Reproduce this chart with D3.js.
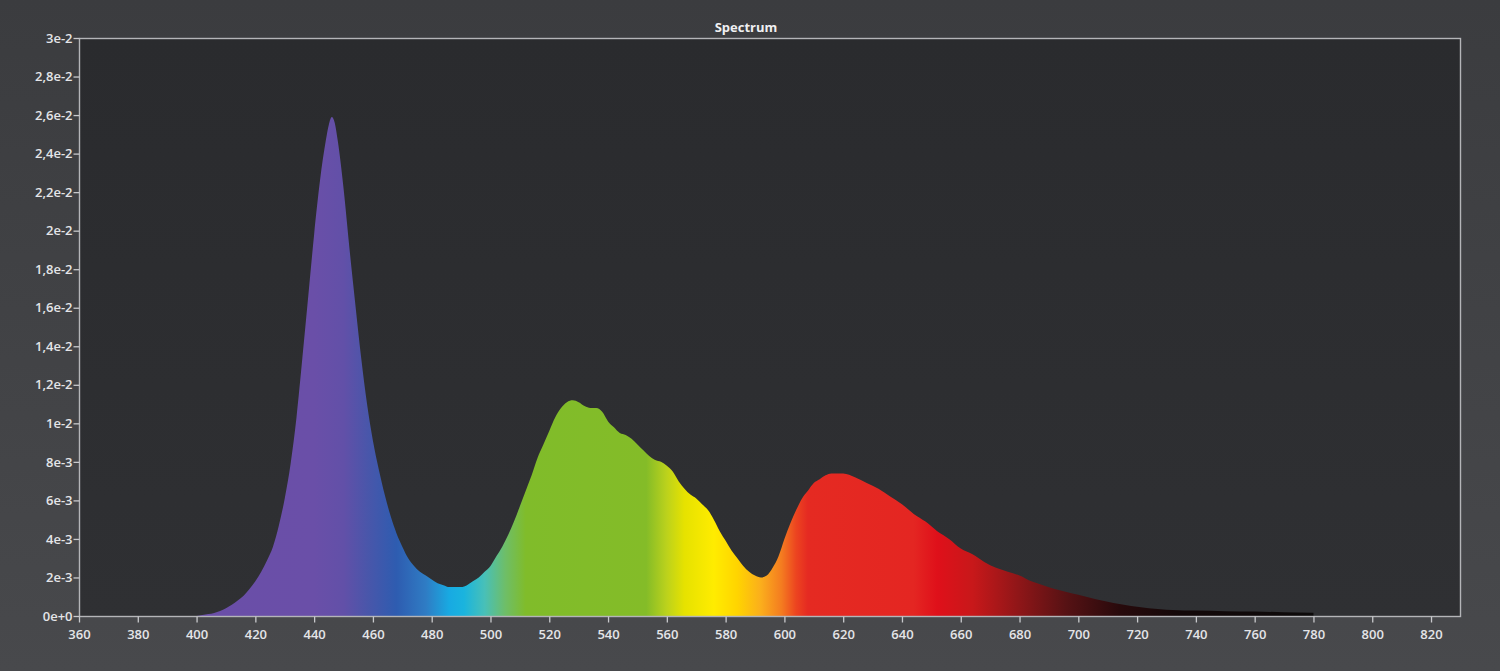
<!DOCTYPE html>
<html>
<head>
<meta charset="utf-8">
<script src="https://cdn.jsdelivr.net/npm/d3@7"></script>
<style>
  html, body { margin: 0; padding: 0; background: #404144; }
  svg { display: block; }
</style>
</head>
<body>
<svg id="chart" width="1500" height="671"></svg>
<script>
// ---- data ----
const title = "Spectrum";
const wavelengths = [400,404,406,408,410,412,414,416,418,420,422,424,426,428,430,432,434,436,438,440,442,444,445,446,447,448,450,452,454,456,458,460,462,464,466,468,470,472,474,476,478,480,482,484,486,488,490,492,494,496,498,500,502,504,506,508,510,512,514,516,518,520,522,524,526,528,530,532,534,536,538,540,542,544,546,548,550,552,554,556,558,560,562,564,566,568,570,572,574,576,578,580,582,584,586,588,590,592,594,596,598,600,602,604,606,608,610,612,614,616,618,620,624,628,632,636,640,644,648,652,656,660,664,668,672,676,680,684,688,692,696,700,704,708,712,716,720,724,728,732,736,740,750,760,770,780];
const intensity = [0,0.0001,0.00016,0.00026,0.0004,0.00058,0.0008,0.00105,0.0014,0.0018,0.0023,0.0029,0.0036,0.0047,0.0061,0.0079,0.0103,0.0134,0.0166,0.0198,0.0226,0.0247,0.0255,0.0259,0.0256,0.0247,0.0222,0.0191,0.0162,0.0134,0.0110,0.0091,0.0076,0.0063,0.0052,0.0043,0.0036,0.0030,0.0026,0.0023,0.0021,0.0019,0.0017,0.0016,0.0015,0.0015,0.0015,0.0016,0.0018,0.0020,0.0023,0.0026,0.0031,0.0036,0.0042,0.0049,0.0057,0.0065,0.0073,0.0082,0.0089,0.0096,0.0103,0.0108,0.0111,0.0112,0.0111,0.0109,0.0108,0.0108,0.0106,0.0101,0.0098,0.0095,0.0094,0.0092,0.0089,0.0086,0.0083,0.0081,0.0080,0.0078,0.0075,0.0070,0.0066,0.0063,0.0061,0.0058,0.0055,0.0050,0.0044,0.0039,0.0034,0.0030,0.0026,0.0023,0.0021,0.0020,0.0021,0.0025,0.0031,0.0040,0.0048,0.0055,0.0061,0.0065,0.0069,0.0071,0.0073,0.0074,0.0074,0.0074,0.0072,0.0069,0.0066,0.0062,0.0058,0.0053,0.0049,0.0044,0.0040,0.0035,0.0032,0.0028,0.0025,0.0023,0.0021,0.0018,0.0016,0.0014,0.00125,0.0011,0.00095,0.0008,0.00068,0.00057,0.00048,0.0004,0.00035,0.00031,0.00029,0.00028,0.00025,0.00023,0.0002,0.00017];

const xTickValues = [360,380,400,420,440,460,480,500,520,540,560,580,600,620,640,660,680,700,720,740,760,780,800,820];
const yTickValues = [0,0.002,0.004,0.006,0.008,0.01,0.012,0.014,0.016,0.018,0.02,0.022,0.024,0.026,0.028,0.03];
const yTickLabels = ["0e+0","2e-3","4e-3","6e-3","8e-3","1e-2","1,2e-2","1,4e-2","1,6e-2","1,8e-2","2e-2","2,2e-2","2,4e-2","2,6e-2","2,8e-2","3e-2"];

// spectral colour stops (wavelength -> colour)
const stopWavelengths = [400,440,450,458,468,478,486,491,498,505,512,553,560,566,576,584,592,599,604,608,644,652,664,680,696,714,735,780];
const stopColors = ["#6a4ea8","#6a4fa8","#6250a8","#4a56aa","#2e5cb0","#2f7cc4","#18aae2","#1ab4de","#48c0b8","#6ebe68","#80bc2a","#84bc28","#bcd21c","#e6e200","#ffec00","#ffd400","#fbae1c","#f47c20","#ec4420","#e52a22","#e42622","#df101a","#c8181a","#8e1618","#561214","#280a0c","#130809","#0c0a0a"];

// ---- layout ----
const W = 1500, H = 671;
const m = {left: 79, right: 1461, top: 38, bottom: 616};

const svg = d3.select("#chart");
const defs = svg.append("defs");

const bgGrad = defs.append("linearGradient").attr("id","bgGrad")
  .attr("x1",0).attr("y1",0).attr("x2",0).attr("y2",1);
bgGrad.append("stop").attr("offset","0%").attr("stop-color","#3b3c3f");
bgGrad.append("stop").attr("offset","100%").attr("stop-color","#48494c");

const plotGrad = defs.append("linearGradient").attr("id","plotGrad")
  .attr("x1",0).attr("y1",0).attr("x2",0).attr("y2",1);
plotGrad.append("stop").attr("offset","0%").attr("stop-color","#2a2b2e");
plotGrad.append("stop").attr("offset","100%").attr("stop-color","#2f3033");

svg.append("rect").attr("width",W).attr("height",H).attr("fill","url(#bgGrad)");

const x = d3.scaleLinear().domain([360, 830.2]).range([m.left, m.right]);
const y = d3.scaleLinear().domain([0, 0.03]).range([m.bottom, m.top]);

svg.append("rect")
  .attr("x", m.left).attr("y", m.top)
  .attr("width", m.right - m.left).attr("height", m.bottom - m.top)
  .attr("fill","url(#plotGrad)");

// spectrum gradient
const specGrad = defs.append("linearGradient").attr("id","specGrad")
  .attr("gradientUnits","userSpaceOnUse")
  .attr("x1", x(stopWavelengths[0])).attr("y1", 0)
  .attr("x2", x(stopWavelengths[stopWavelengths.length-1])).attr("y2", 0);
const w0 = stopWavelengths[0], w1 = stopWavelengths[stopWavelengths.length-1];
stopWavelengths.forEach((w,i) => {
  specGrad.append("stop")
    .attr("offset", ((w - w0)/(w1 - w0)*100) + "%")
    .attr("stop-color", stopColors[i]);
});

const data = wavelengths.map((w,i) => ({w, v: intensity[i]}));
const area = d3.area()
  .x(d => x(d.w))
  .y0(y(0))
  .y1(d => y(d.v))
  .curve(d3.curveMonotoneX);

svg.append("path")
  .datum(data)
  .attr("d", area)
  .attr("fill","url(#specGrad)");

// frame
svg.append("rect")
  .attr("x", m.left + 0.5).attr("y", m.top + 0.5)
  .attr("width", m.right - m.left - 1).attr("height", m.bottom - m.top)
  .attr("fill","none").attr("stroke","#b4b5b8").attr("stroke-width",1.4);

// axes
const fontFam = "'Open Sans', 'DejaVu Sans', sans-serif";
const xAxis = d3.axisBottom(x).tickValues(xTickValues).tickSize(6).tickSizeOuter(0).tickFormat(d3.format("d"));
const gx = svg.append("g").attr("transform", `translate(0,${m.bottom + 0.5})`).call(xAxis);
gx.select(".domain").remove();
gx.selectAll(".tick line").attr("stroke","#c8c9cc").attr("stroke-width",1.3);
gx.selectAll(".tick text").attr("fill","#e4e5e8").attr("font-size","13px")
  .attr("font-family", fontFam).attr("font-weight",600).attr("dy","1.05em");

const yAxis = d3.axisLeft(y).tickValues(yTickValues).tickSize(6).tickSizeOuter(0)
  .tickFormat((d,i) => yTickLabels[i]);
const gy = svg.append("g").attr("transform", `translate(${m.left + 0.5},0)`).call(yAxis);
gy.select(".domain").remove();
gy.selectAll(".tick line").attr("stroke","#c8c9cc").attr("stroke-width",1.3);
gy.selectAll(".tick text").attr("fill","#e4e5e8").attr("font-size","13px")
  .attr("font-family", fontFam).attr("font-weight",600).attr("x",-7);

// title
svg.append("text")
  .attr("x", 746).attr("y", 32)
  .attr("text-anchor","middle")
  .attr("fill","#f0f0f2")
  .attr("font-size","13px")
  .attr("font-weight",700)
  .attr("font-family", fontFam)
  .text(title);
</script>
</body>
</html>
